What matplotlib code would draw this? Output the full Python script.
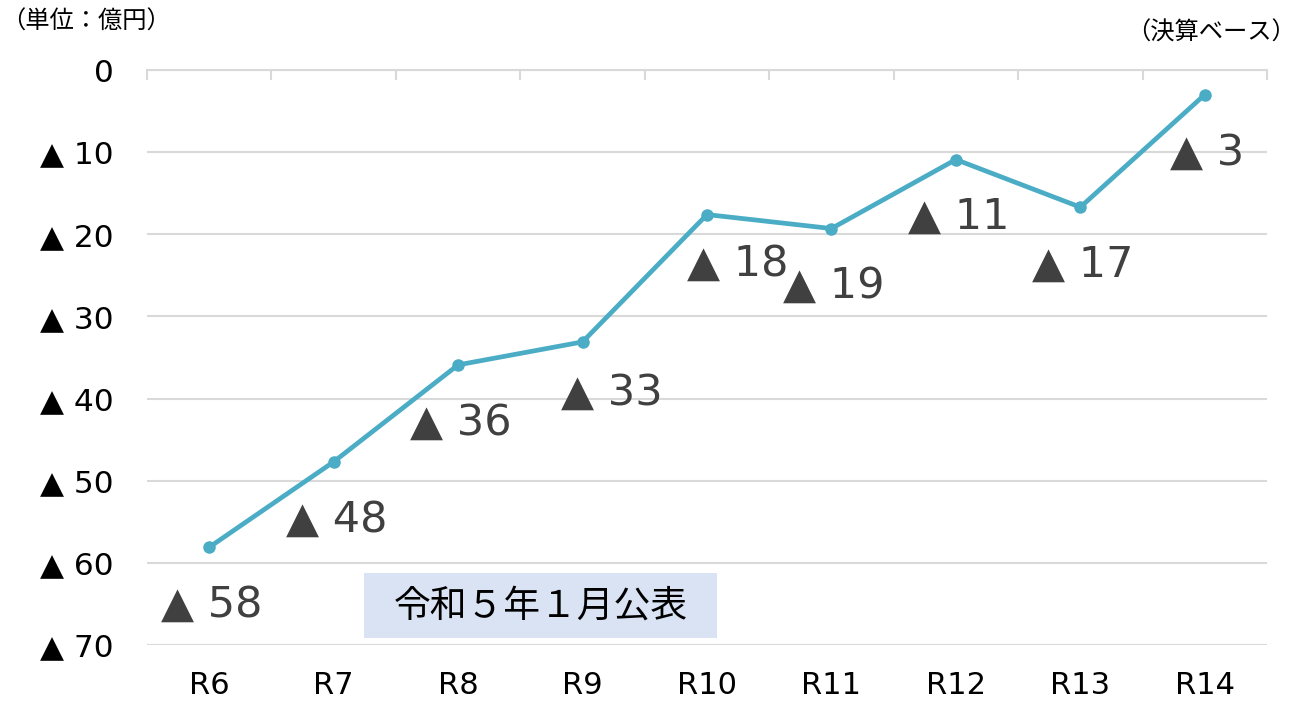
import numpy as np
import matplotlib
matplotlib.use("Agg")
import matplotlib.pyplot as plt
from matplotlib.patches import Rectangle
from matplotlib.ticker import FixedLocator

plt.rcParams['font.family'] = ['DejaVu Sans', 'Noto Sans CJK JP']

# data (deficit, 億円)
years = ['R6', 'R7', 'R8', 'R9', 'R10', 'R11', 'R12', 'R13', 'R14']
deficit = [-58.1, -47.7, -35.9, -33.1, -17.6, -19.3, -10.9, -16.7, -3.0]
y_ticks = [0, -10, -20, -30, -40, -50, -60, -70]

line_color = '#4BACC6'
grid_color = '#D9D9D9'
label_color = '#404040'

W, H = 1300, 703
fig = plt.figure(figsize=(W / 100, H / 100), dpi=100)
ax = fig.add_axes([147 / W, 1 - 645 / H, 1120 / W, 575 / H])

x = np.arange(len(years))
ax.plot(x, deficit, color=line_color, lw=3.4, marker='o', ms=8, zorder=3)

ax.set_xlim(-0.5, len(years) - 0.5)
ax.set_ylim(-70, 0)

# y axis
ax.set_yticks(y_ticks)
ax.set_yticklabels(['0' if v == 0 else f'▲ {abs(v)}' for v in y_ticks])
ax.tick_params(axis='y', length=0, pad=24, labelsize=22.5)
ax.grid(axis='y', color=grid_color, lw=1.5)
ax.set_axisbelow(True)

# x axis: labels below, category ticks on the top line
ax.set_xticks(x)
ax.set_xticklabels(years)
ax.tick_params(axis='x', which='major', length=0, pad=19, labelsize=22)
ax.xaxis.set_minor_locator(FixedLocator(np.arange(-0.5, len(years), 1.0)))
ax.tick_params(axis='x', which='minor', top=True, bottom=False, direction='in',
               length=7.5, width=1.5, color=grid_color)

for s in ['left', 'right', 'bottom']:
    ax.spines[s].set_visible(False)
ax.spines['top'].set_color(grid_color)
ax.spines['top'].set_linewidth(1.5)

# data labels
shift = {3: (19, 5), 4: (20, 6)}
for i, v in enumerate(deficit):
    dx, dy = shift.get(i, (0, 0))
    ax.annotate(f'▲ {abs(round(v))}', (i, v), textcoords='offset points',
                xytext=(2 + dx, -41.5 + dy), ha='center', va='center',
                fontsize=31, color=label_color)

# notes
fig.text(1 / W, 1 - 22 / H, '（単位：億円）', fontsize=17.5,
         family=['Noto Sans CJK JP'], ha='left', va='center')
fig.text(1296 / W, 1 - 33 / H, '（決算ベース）', fontsize=17.5,
         family=['Noto Sans CJK JP'], ha='right', va='center')
fig.patches.append(Rectangle((364 / W, 1 - 638 / H), 353 / W, 65 / H,
                             transform=fig.transFigure, fc='#DAE3F3', ec='none'))
fig.text(541 / W, 1 - 606 / H, '令和５年１月公表', fontsize=26.5,
         family=['Noto Sans CJK JP'], ha='center', va='center')

fig.savefig('out.png', dpi=100)
